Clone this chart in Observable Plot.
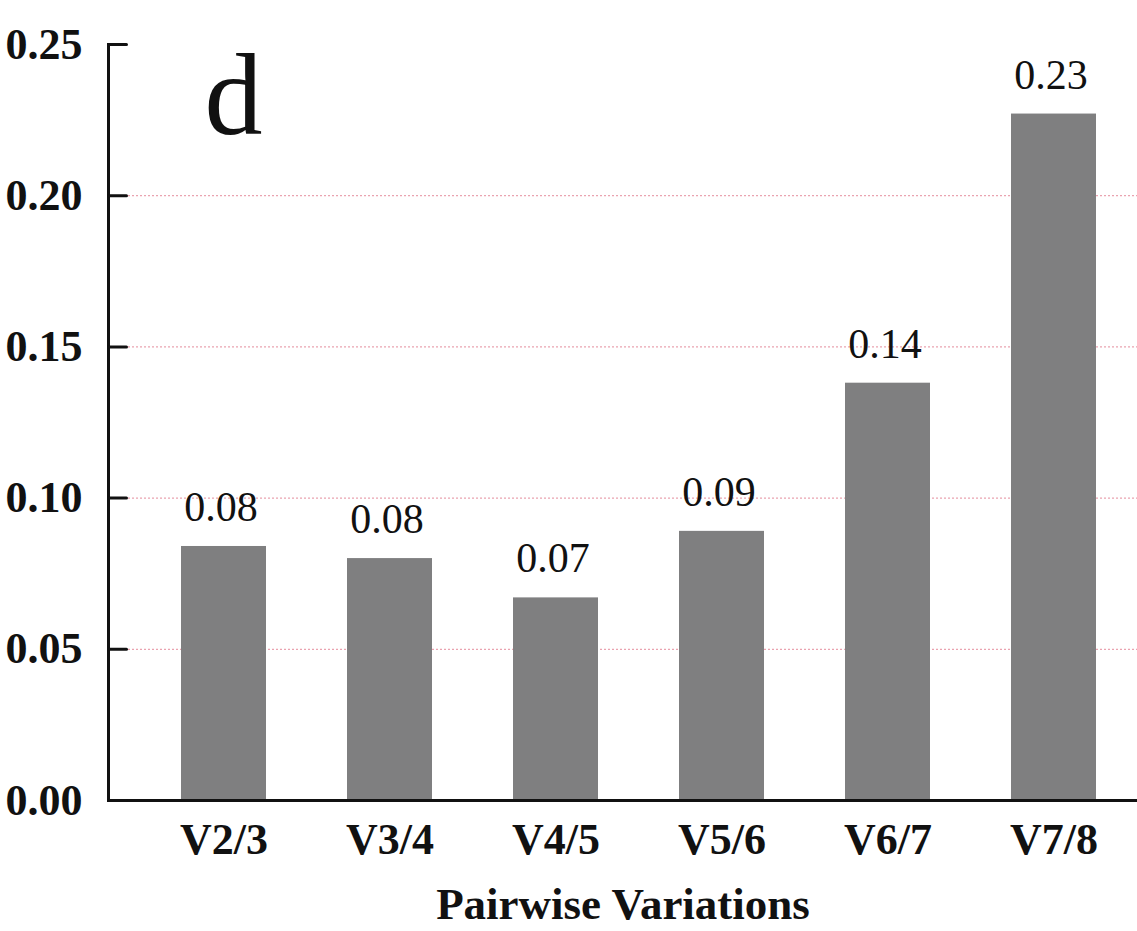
<!DOCTYPE html>
<html>
<head>
<meta charset="utf-8">
<script src="https://cdn.jsdelivr.net/npm/d3@7"></script>
<script src="https://cdn.jsdelivr.net/npm/@observablehq/plot@0.6"></script>
<style>
  html, body { margin: 0; padding: 0; background: #fff; }
  #chart svg { display: block; }
</style>
</head>
<body>
<div id="chart"></div>
<script>
const categories = ["V2/3", "V3/4", "V4/5", "V5/6", "V6/7", "V7/8"];
const values = [0.084, 0.080, 0.067, 0.089, 0.138, 0.227];
const valueLabels = ["0.08", "0.08", "0.07", "0.09", "0.14", "0.23"];
const yTicks = [0, 0.05, 0.10, 0.15, 0.20, 0.25];
const gridTicks = [0.05, 0.10, 0.15, 0.20];
const xTitle = "Pairwise Variations";
const panelLetter = "d";

const data = categories.map((c, i) => ({cat: c, value: values[i], label: valueLabels[i]}));

const tickShape = {
  draw(context, l) {
    context.moveTo(0, 0);
    context.lineTo(0, -l);
  }
};

const chart = Plot.plot({
  width: 1137,
  height: 931,
  marginLeft: 108,
  marginRight: 0,
  marginTop: 44,
  marginBottom: 131,
  style: {fontFamily: "Liberation Serif, serif", background: "#fff", color: "#111"},
  x: {domain: categories, paddingInner: 0.49, paddingOuter: 0.245, insetLeft: 32, label: null},
  y: {domain: [0, 0.25], label: null},
  marks: [
    Plot.ruleY(gridTicks, {stroke: "#eaa3b0", strokeWidth: 1.2, strokeDasharray: "2,2"}),
    Plot.barY(data, {x: "cat", y: "value", fill: "#7f7f80"}),
    Plot.text(data, {x: "cat", y: "value", text: "label", dy: -39, dx: -3, lineAnchor: "middle", fontSize: 42, fill: "#111"}),
    Plot.ruleY([0], {stroke: "#111", strokeWidth: 3}),
    Plot.frame({anchor: "left", stroke: "#111", strokeWidth: 3}),
    Plot.vector(yTicks, {y: d => d, frameAnchor: "left", rotate: 90, length: 18, anchor: "start", shape: tickShape, stroke: "#111", strokeWidth: 3}),
    Plot.axisY({ticks: yTicks, tickSize: 0, tickPadding: 26, tickFormat: d3.format(".2f"), fontSize: 44, fontWeight: "bold", label: null}),
    Plot.axisX({tickSize: 0, tickPadding: 22, fontSize: 44, fontWeight: "bold", label: null}),
    Plot.text([xTitle], {frameAnchor: "bottom", dy: 104, lineAnchor: "middle", fontSize: 45, fontWeight: "bold", fill: "#111"}),
    Plot.text([panelLetter], {frameAnchor: "top-left", dx: 96, dy: 52, textAnchor: "start", lineAnchor: "middle", fontSize: 116, fill: "#111"})
  ]
});
document.getElementById("chart").appendChild(chart);
</script>
</body>
</html>
